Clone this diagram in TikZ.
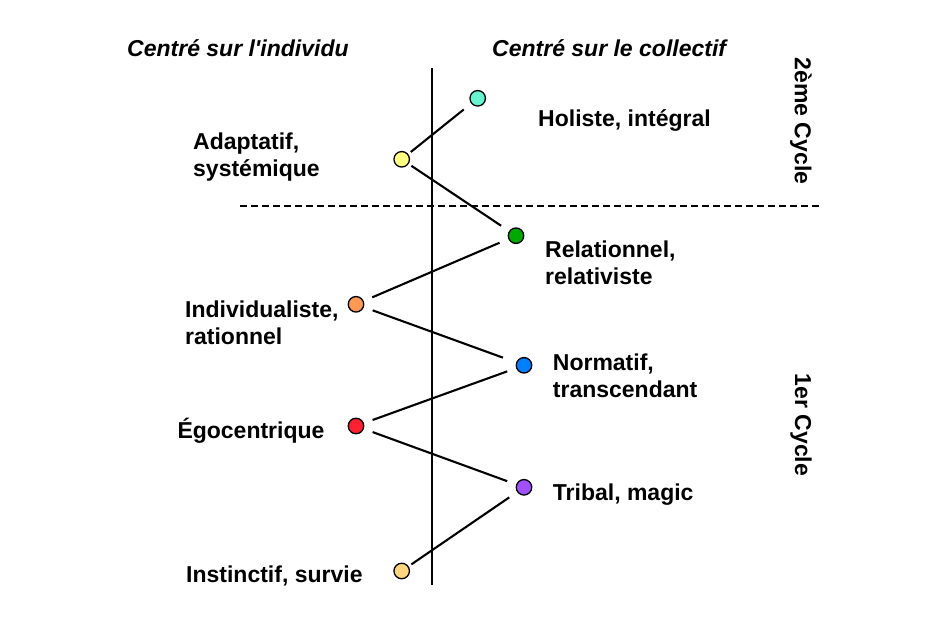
\documentclass[tikz,border=0pt]{standalone}
\usepackage{fontspec}
\setmainfont{Liberation Sans}
\definecolor{cteal}{RGB}{102,245,208}
\definecolor{cyellow}{RGB}{255,255,128}
\definecolor{cgreen}{RGB}{0,168,0}
\definecolor{corange}{RGB}{255,153,85}
\definecolor{cblue}{RGB}{0,128,255}
\definecolor{cred}{RGB}{255,32,48}
\definecolor{cpurple}{RGB}{160,80,255}
\definecolor{cgold}{RGB}{255,213,128}
\tikzset{
  dot/.style={circle, draw=black, line width=1.3pt, minimum size=15.5pt, inner sep=0pt},
  lab/.style={font=\fontsize{23}{27}\selectfont\bfseries, inner sep=0pt, align=left, anchor=base west},
  head/.style={font=\fontsize{23}{27}\selectfont\bfseries\itshape, inner sep=0pt, anchor=base west},
  cyc/.style={font=\fontsize{23}{27}\selectfont\bfseries, inner sep=0pt, rotate=-90},
  link/.style={line width=2.1pt, shorten <=9.3pt, shorten >=9.5pt},
  linkb/.style={line width=2.1pt, shorten <=3.3pt, shorten >=9.5pt},
  axis/.style={line width=2pt},
  sep/.style={line width=1.8pt, dash pattern=on 6.5pt off 4.5pt}
}
\begin{document}
\begin{tikzpicture}[x=1pt,y=-1pt]
\useasboundingbox[fill=white] (0,0) rectangle (938,617);
% axis and separator
\coordinate (axtop) at (432,68);
\coordinate (axbot) at (432,585);
\draw[axis] (axtop) -- (axbot);
\coordinate (sepL) at (240,205.7);
\coordinate (sepR) at (820,205.7);
\draw[sep] (sepL) -- (sepR);
% headers
\node[head] (hl) at (127,57) {Centré sur l\textquotesingle individu};
\node[head] (hr) at (492,57) {Centré sur le collectif};
\node[cyc] (c2) at (801,121) {2ème Cycle};
\node[cyc] (c1) at (801,425) {1er Cycle};
% dots
\node[dot, fill=cteal] (teal) at (477.7,98.3) {};
\node[dot, fill=cyellow] (yellow) at (401.7,159.3) {};
\node[dot, fill=cgreen] (green) at (516,235.7) {};
\node[dot, fill=corange] (orange) at (356,304.3) {};
\node[dot, fill=cblue] (blue) at (524,365.3) {};
\node[dot, fill=cred] (red) at (356,426) {};
\node[dot, fill=cpurple] (purple) at (524,487.3) {};
\node[dot, fill=cgold] (gold) at (401.7,571) {};
% connectors
\draw[linkb] (yellow) -- (teal);
\draw[linkb] (yellow) -- (green);
\draw[link] (orange) -- (green);
\draw[link, shorten >=14pt] (orange) -- (blue);
\draw[link] (red) -- (blue);
\draw[link] (red) -- (purple);
\draw[linkb] (gold) -- (purple);
% labels (multi-line: base = last line)
\node[lab] (lteal) at (538,127) {Holiste, intégral};
\node[lab] (lyellow) at (193,176.5) {Adaptatif,\\systémique};
\node[lab] (lgreen) at (545,285) {Relationnel,\\relativiste};
\node[lab] (lorange) at (185,344.5) {Individualiste,\\rationnel};
\node[lab] (lblue) at (552.7,398) {Normatif,\\transcendant};
\node[lab] (lred) at (177.3,439) {Égocentrique};
\node[lab] (lpurple) at (552.7,500.5) {Tribal, magic};
\node[lab] (lgold) at (186,583) {Instinctif, survie};
\end{tikzpicture}
\end{document}
